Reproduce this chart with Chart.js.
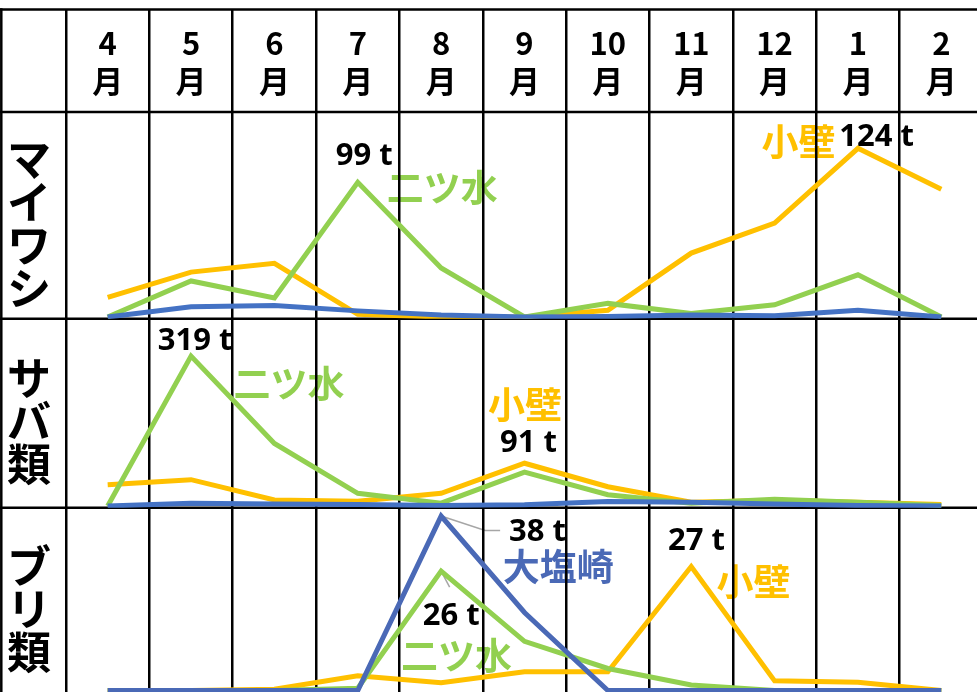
<!DOCTYPE html>
<html lang="ja">
<head>
<meta charset="utf-8">
<title>定置網 月別漁獲量</title>
<script src="https://cdn.jsdelivr.net/npm/chart.js@4.4.1/dist/chart.umd.min.js"></script>
<style>
  html, body { margin: 0; padding: 0; background: #fff; }
  #wrap { width: 977px; height: 692px; overflow: hidden; position: relative; }
  canvas { display: block; }
</style>
</head>
<body>
<div id="wrap"><canvas id="chart" width="986" height="700"></canvas></div>
<script>
// ---- data -------------------------------------------------------------
const months = ['4月', '5月', '6月', '7月', '8月', '9月', '10月', '11月', '12月', '1月', '2月'];
const speciesNames = ['マイワシ', 'サバ類', 'ブリ類'];
const siteNames = ['小壁', '二ツ水', '大塩崎'];

// マイワシ monthly catch (t)
const iwashiKokabe  = [14.5, 33, 39.5, 2, 0, 0, 5, 47, 69, 124, 94];
const iwashiFutatsu = [0, 26.5, 14, 99, 36, 0, 10, 2.5, 9, 31, 0];
const iwashiOshio   = [0, 7.5, 8.5, 4.5, 1.5, 0, 0.3, 1.5, 1, 5, 0];

// サバ類 monthly catch (t)
const sabaKokabe  = [45, 56, 13, 10, 27, 91, 41, 8, 12, 8, 3];
const sabaFutatsu = [0, 319, 133, 27, 6, 72, 24, 6, 14.5, 8, 1];
const sabaOshio   = [0, 6, 4.5, 3, 1, 2.5, 9.5, 8, 4.5, 1, 0];

// ブリ類 monthly catch (t)
const buriKokabe  = [0, 0, 0.3, 3.2, 1.7, 4.1, 4.1, 27, 2.1, 1.8, 0];
const buriFutatsu = [0, 0, 0, 0.5, 26, 10.7, 4.8, 1.2, 0, 0, 0];
const buriOshio   = [0, 0, 0, 0, 38, 17, 0, 0, 0, 0, 0];

// ---- styling ----------------------------------------------------------
const COLOR_KOKABE = '#FFC000';
const COLOR_FUTATSU = '#92D050';
const COLOR_OSHIO = '#4472C4';
const COLOR_OSHIO_DARK = '#4A69B6';
const JP_FONT = '"Noto Sans CJK JP", "Noto Sans", sans-serif';
const NUM_FONT = '"Noto Sans", "Liberation Sans", sans-serif';

// one stacked y axis per species row (top to bottom)
const panels = [
  { id: 'yIwashi', name: speciesNames[0], min: -1.25, max: 150.7, weight: 206.7, order: 3 },
  { id: 'ySaba',   name: speciesNames[1], min: -3.8,  max: 398.5, weight: 189.1, order: 2 },
  { id: 'yBuri',   name: speciesNames[2], min: -0.76, max: 39.8,  weight: 186.2, order: 1 }
];

function line(label, data, axis, color) {
  return {
    label, data, yAxisID: axis, xAxisID: 'x',
    borderColor: color, backgroundColor: color,
    borderWidth: 5, pointRadius: 0, pointHoverRadius: 0,
    tension: 0, fill: false
  };
}

// first dataset is painted last, so 大塩崎 sits on top, 小壁 at the bottom
const datasets = [
  line(siteNames[2], iwashiOshio,   'yIwashi', COLOR_OSHIO),
  line(siteNames[1], iwashiFutatsu, 'yIwashi', COLOR_FUTATSU),
  line(siteNames[0], iwashiKokabe,  'yIwashi', COLOR_KOKABE),
  line(siteNames[2], sabaOshio,     'ySaba',   COLOR_OSHIO),
  line(siteNames[1], sabaFutatsu,   'ySaba',   COLOR_FUTATSU),
  line(siteNames[0], sabaKokabe,    'ySaba',   COLOR_KOKABE),
  line(siteNames[2], buriOshio,     'yBuri',   COLOR_OSHIO_DARK),
  line(siteNames[1], buriFutatsu,   'yBuri',   COLOR_FUTATSU),
  line(siteNames[0], buriKokabe,    'yBuri',   COLOR_KOKABE)
];

// callouts: anchored to a data point, offset in pixels
const callouts = [
  { axis: 'yIwashi', series: iwashiFutatsu, i: 3, value: true, dx: 6.5,  dy: -25.7 },
  { axis: 'yIwashi', series: iwashiFutatsu, i: 3, text: siteNames[1], color: COLOR_FUTATSU, dx: 84.5, dy: 5.6 },
  { axis: 'yIwashi', series: iwashiKokabe,  i: 9, text: siteNames[0], color: COLOR_KOKABE, dx: -59.4, dy: -6.4 },
  { axis: 'yIwashi', series: iwashiKokabe,  i: 9, value: true, dx: 18.6, dy: -11.4 },

  { axis: 'ySaba', series: sabaFutatsu, i: 1, value: true, dx: 4, dy: -15 },
  { axis: 'ySaba', series: sabaFutatsu, i: 1, text: siteNames[1], color: COLOR_FUTATSU, dx: 98, dy: 28 },
  { axis: 'ySaba', series: sabaKokabe,  i: 5, text: siteNames[0], color: COLOR_KOKABE, dx: 0.5, dy: -58 },
  { axis: 'ySaba', series: sabaKokabe,  i: 5, value: true, dx: 4, dy: -20 },

  { axis: 'yBuri', series: buriOshio, i: 4, value: true, dx: 96.4, dy: 16.4,
    leader: [[44, 14.5], [59, 14.5]] },
  { axis: 'yBuri', series: buriOshio, i: 4, text: siteNames[2], color: COLOR_OSHIO_DARK, dx: 117, dy: 50.6 },
  { axis: 'yBuri', series: buriFutatsu, i: 4, value: true, dx: 10, dy: 45.5,
    leader: [[8.5, 16]] },
  { axis: 'yBuri', series: buriFutatsu, i: 4, text: siteNames[1], color: COLOR_FUTATSU, dx: 15.4, dy: 84.8 },
  { axis: 'yBuri', series: buriKokabe, i: 7, value: true, dx: 5.3, dy: -25 },
  { axis: 'yBuri', series: buriKokabe, i: 7, text: siteNames[0], color: COLOR_KOKABE, dx: 62.3, dy: 15.4 }
];

// ---- table frame, row headings and callouts ---------------------------
const tablePlugin = {
  id: 'tableFrame',
  beforeDraw(chart) {
    const ctx = chart.ctx;
    const xs = chart.scales.x;
    ctx.save();
    ctx.textAlign = 'center';
    ctx.textBaseline = 'middle';

    // species headings, written top-to-bottom in the first column
    ctx.fillStyle = '#000';
    ctx.font = 'bold 44px ' + JP_FONT;
    panels.forEach(p => {
      const sc = chart.scales[p.id];
      const chars = Array.from(p.name);
      const step = 43;
      const mid = (sc.top + sc.bottom) / 2 + 8;
      chars.forEach((ch, k) => {
        ctx.fillText(ch, 29, mid + (k - (chars.length - 1) / 2) * step);
      });
    });

    // callouts
    callouts.forEach(c => {
      const sc = chart.scales[c.axis];
      const px = xs.getPixelForValue(c.i);
      const py = sc.getPixelForValue(c.series[c.i]);
      if (c.leader) {
        ctx.strokeStyle = '#A6A6A6';
        ctx.lineWidth = 1.5;
        ctx.beginPath();
        ctx.moveTo(px, py);
        c.leader.forEach(([lx, ly]) => ctx.lineTo(px + lx, py + ly));
        ctx.stroke();
      }
      if (c.value) {
        ctx.fillStyle = '#000';
        ctx.font = 'bold 31px ' + NUM_FONT;
        ctx.fillText(c.series[c.i] + ' t', px + c.dx, py + c.dy);
      } else {
        ctx.fillStyle = c.color;
        ctx.font = 'bold 37px ' + JP_FONT;
        ctx.fillText(c.text, px + c.dx, py + c.dy);
      }
    });
    ctx.restore();
  },
  beforeDatasetsDraw(chart) {
    const ctx = chart.ctx;
    const xs = chart.scales.x;
    ctx.save();
    ctx.strokeStyle = '#000';
    ctx.lineWidth = 2.5;
    const rules = [xs.top, xs.bottom].concat(panels.map(p => chart.scales[p.id].bottom));
    rules.forEach(y => {
      ctx.beginPath();
      ctx.moveTo(0, y);
      ctx.lineTo(chart.width, y);
      ctx.stroke();
    });
    ctx.beginPath();
    ctx.moveTo(1.3, xs.top - 1.25);
    ctx.lineTo(1.3, chart.height);
    ctx.stroke();
    ctx.restore();
  }
};

// ---- chart ------------------------------------------------------------
const scales = {
  x: {
    type: 'category',
    position: 'top',
    offset: true,
    border: { display: false },
    grid: {
      color: '#000', lineWidth: 2.5, offset: true,
      drawTicks: true, tickLength: 102.5, tickColor: '#000', tickWidth: 2.5
    },
    ticks: {
      color: '#000',
      padding: -90.5,
      autoSkip: false,
      maxRotation: 0,
      font: { family: JP_FONT, size: 31, weight: 'bold', lineHeight: '38px' },
      callback: (value, index) => [months[index].slice(0, -1), months[index].slice(-1)]
    },
    afterFit: scale => { scale.height = 102.5; }
  }
};
panels.forEach(p => {
  scales[p.id] = {
    type: 'linear',
    display: false,
    position: 'left',
    stack: 'rows',
    stackWeight: p.weight,
    weight: p.order,
    min: p.min,
    max: p.max
  };
});

new Chart(document.getElementById('chart'), {
  type: 'line',
  data: { labels: months, datasets },
  options: {
    responsive: false,
    animation: false,
    events: [],
    layout: { padding: { left: 66, right: 3, top: 9.5, bottom: 6 } },
    plugins: { legend: { display: false }, tooltip: { enabled: false } },
    scales
  },
  plugins: [tablePlugin]
});
</script>
</body>
</html>
